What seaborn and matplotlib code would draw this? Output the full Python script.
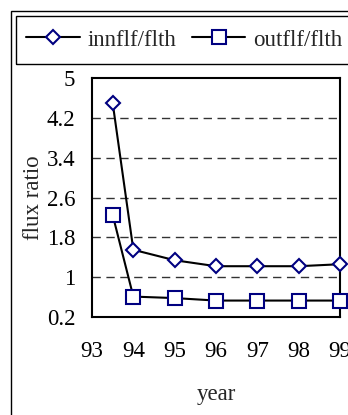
import matplotlib
matplotlib.use("Agg")
import matplotlib.pyplot as plt
from matplotlib.patches import Rectangle
from matplotlib.lines import Line2D
import seaborn as sns
import pandas as pd

# flux ratio series by year
years = [93.5, 94, 95, 96, 97, 98, 99]
innflf_flth = [4.50, 1.55, 1.34, 1.22, 1.22, 1.22, 1.26]
outflf_flth = [2.25, 0.61, 0.58, 0.53, 0.53, 0.53, 0.53]
series_names = ["innflf/flth", "outflf/flth"]
x_ticks = [93, 94, 95, 96, 97, 98, 99]
y_ticks = [0.2, 1, 1.8, 2.6, 3.4, 4.2, 5]
y_tick_labels = ["0.2", "1", "1.8", "2.6", "3.4", "4.2", "5"]

df = pd.DataFrame({
    "year": years * 2,
    "ratio": innflf_flth + outflf_flth,
    "series": [series_names[0]] * len(years) + [series_names[1]] * len(years),
})

sns.set_style("white")
plt.rcParams["font.family"] = ["Liberation Serif", "DejaVu Serif"]

FS = 16.5
W, H = 348, 415
fig = plt.figure(figsize=(W / 100, H / 100), dpi=100)
ax = fig.add_axes([92 / W, 1 - 317 / H, (340 - 92) / W, (317 - 78) / H])

navy = "#000080"
marker_sizes = [7, 9.5]
sns.lineplot(
    data=df, x="year", y="ratio", hue="series", style="series",
    palette=["black", "black"], markers={"innflf/flth": "D", "outflf/flth": "s"},
    dashes=False, linewidth=1.5, ax=ax, legend=False, clip_on=False,
)
for line, ms in zip(ax.lines, marker_sizes):
    line.set_markerfacecolor("white")
    line.set_markeredgecolor(navy)
    line.set_markeredgewidth(1.5)
    line.set_markersize(ms)
    line.set_zorder(5)

ax.set_xlim(93, 99)
ax.set_ylim(0.2, 5)
ax.set_xticks(x_ticks)
ax.set_xticklabels([str(t) for t in x_ticks])
ax.set_yticks(y_ticks)
ax.set_yticklabels(y_tick_labels)
for y in y_ticks[1:-1]:
    ax.axhline(y, color="#333333", linestyle=(0, (6, 4)), linewidth=1.0, zorder=1)

for side in ["left", "right", "top", "bottom"]:
    ax.spines[side].set_visible(True)
    ax.spines[side].set_color("black")
    ax.spines[side].set_linewidth(1.5)
ax.tick_params(axis="both", direction="out", length=5, width=1.2, color="black",
               labelsize=FS, labelcolor="black")
ax.tick_params(axis="y", pad=7)
ax.tick_params(axis="x", pad=12)
ax.set_xlabel("year", fontsize=FS, labelpad=16)
ax.set_ylabel("flux ratio", fontsize=FS, labelpad=2)

# outer chart border and legend box
fig.patches.append(Rectangle((11 / W, -0.1), 1.2, 1 - 11 / H + 0.1, transform=fig.transFigure,
                             fill=False, edgecolor="black", linewidth=1.0))
fig.patches.append(Rectangle((16 / W, 1 - 64 / H), 1.2, 48 / H, transform=fig.transFigure,
                             fill=False, edgecolor="black", linewidth=1.0))

leg_handles = [
    Line2D([], [], color="black", linewidth=1.5, marker=m, markersize=s,
           markerfacecolor="white", markeredgecolor=navy, markeredgewidth=1.5)
    for m, s in zip(["D", "s"], marker_sizes)
]
fig.legend(leg_handles, series_names, loc="center left",
           bbox_to_anchor=(26 / W, 1 - 40 / H), ncol=2, frameon=False,
           fontsize=FS, handlelength=2.35, handletextpad=0.35, columnspacing=0.65,
           borderaxespad=0, borderpad=0)

fig.savefig("out.png", dpi=100)
